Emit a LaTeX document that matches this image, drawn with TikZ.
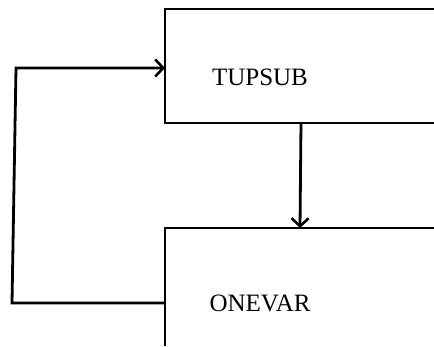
\documentclass[tikz,border=0pt]{standalone}
\usepackage{fontspec}
\setmainfont{Liberation Serif}
\usetikzlibrary{arrows.meta}
\tikzset{
  wire/.style={line width=2.8pt, line join=miter},
  flow/.style={wire, -{Straight Barb[length=8pt,width=17pt,line width=2.6pt]}},
  boxlabel/.style={font=\fontsize{25}{28}\selectfont, inner sep=0pt}
}
\begin{document}
\begin{tikzpicture}[x=1pt,y=-1pt]
\useasboundingbox (0,0) rectangle (434,346);
% TUPSUB box, open to the right
\draw[wire] (434,9) -- (165,9) -- (165,123) -- (434,123);
\node[boxlabel] (tupsub) at (260,77) {TUPSUB};
% ONEVAR box
\draw[wire] (434,228) -- (165,228) -- (165,346);
\node[boxlabel] (onevar) at (260,303) {ONEVAR};
% ends of the connectors on the box edges
\coordinate (tupsubin) at (165,68);
\coordinate (tupsubout) at (301,123);
\coordinate (onevarin) at (300,228);
\coordinate (onevarout) at (165,303);
\coordinate (loopbot) at (12,303);
\coordinate (looptop) at (16,68);
\draw[flow] (tupsubout) -- (onevarin);
\draw[flow] (onevarout) -- (loopbot) -- (looptop) -- (tupsubin);
\end{tikzpicture}
\end{document}
